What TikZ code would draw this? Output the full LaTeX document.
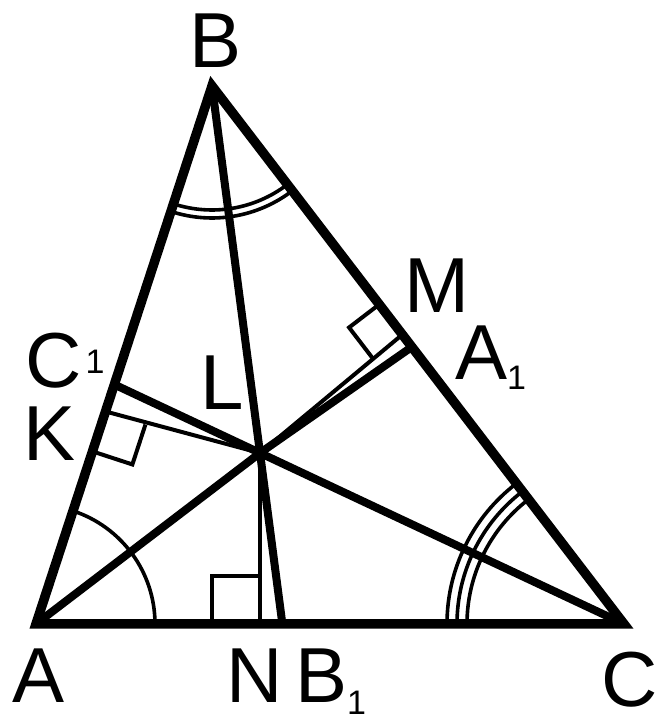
\documentclass[tikz,border=0pt]{standalone}
\usepackage{fontspec}
\setmainfont{Liberation Sans}
\usetikzlibrary{calc}
\newcommand{\subsz}{\fontsize{34}{34}\selectfont}
\begin{document}
\begin{tikzpicture}[x=1pt,y=1pt,
  side/.style={line width=9.5pt, line join=miter, miter limit=20},
  bis/.style={line width=8pt, line join=round},
  thinline/.style={line width=4pt},
  sqmark/.style={line width=4pt, line join=miter},
  anglemark/.style={line width=3.6pt},
  lbl/.style={font=\fontsize{78}{78}\selectfont, inner sep=0pt, anchor=base}
]
\useasboundingbox (0,0) rectangle (659,722);
% vertices and incentre
\coordinate (A) at (36,98);
\coordinate (B) at (212,636);
\coordinate (C) at (624,98);
\coordinate (L) at (260,269);
% feet of bisectors
\coordinate (B1) at (intersection of B--L and A--C);
\coordinate (C1) at (intersection of C--L and A--B);
\coordinate (A1) at ($(B)!0.485!(C)$);
% feet of perpendiculars
\coordinate (M) at ($(B)!0.462!(C)$);
\coordinate (K) at ($(A)!0.395!(B)$);
\coordinate (N) at ($(A)!(L)!(C)$);
% right-angle squares
\coordinate (Ka) at ($(K)!42pt!(A)$);
\coordinate (Kl) at ($(K)!42pt!90:(A)$);
\coordinate (Kc) at ($(Ka)+(Kl)-(K)$);
\coordinate (Ma) at ($(M)!38pt!(B)$);
\coordinate (Mn) at ($(M)!38pt!90:(B)$);
\coordinate (Mc) at ($(Ma)+(Mn)-(M)$);
\coordinate (Na) at ($(N)!48pt!(A)$);
\coordinate (Nl) at ($(N)!48pt!(L)$);
\coordinate (Nc) at ($(Na)+(Nl)-(N)$);

% perpendiculars from L
\draw[thinline] (L) -- (K);
\draw[thinline] (L) -- (M);
\draw[thinline] (L) -- (N);
\draw[sqmark] (Ka) -- (Kc) -- (Kl);
\draw[sqmark] (Ma) -- (Mc) -- (Mn);
\draw[sqmark] (Na) -- (Nc) -- (Nl);

% angle marks
\draw[anglemark] ($(A)+(0:119)$) arc[start angle=0, end angle=71.9, radius=119];
\draw[anglemark] ($(B)+(251.9:124)$) arc[start angle=251.9, end angle=307.45, radius=124];
\draw[anglemark] ($(B)+(251.9:132)$) arc[start angle=251.9, end angle=307.45, radius=132];
\draw[anglemark] ($(C)+(127.45:157)$) arc[start angle=127.45, end angle=180, radius=157];
\draw[anglemark] ($(C)+(127.45:167)$) arc[start angle=127.45, end angle=180, radius=167];
\draw[anglemark] ($(C)+(127.45:177)$) arc[start angle=127.45, end angle=180, radius=177];

% bisectors
\draw[bis] (A) -- (L) -- (A1);
\draw[bis] (B) -- (B1);
\draw[bis] (C) -- (C1);

% triangle
\draw[side] (A) -- (B) -- (C) -- cycle;

% labels
\node[lbl] (lB) at (216,654) {B};
\node[lbl] (lA) at (39,19) {A};
\node[lbl] (lN) at (255,19) {N};
\node[lbl,anchor=base west] (lB1) at (295,19) {B\raisebox{-12pt}{\subsz 1}};
\node[lbl] (lC) at (630,15) {C};
\node[lbl] (lM) at (437,409) {M};
\node[lbl,anchor=base west] (lA1) at (455,342) {A\raisebox{-10pt}{\subsz 1}};
\node[lbl,anchor=base west] (lC1) at (25,334) {C\hspace{4pt}\raisebox{14pt}{\subsz 1}};
\node[lbl] (lK) at (50,261) {K};
\node[lbl] (lL) at (222,312) {L};
\end{tikzpicture}
\end{document}
